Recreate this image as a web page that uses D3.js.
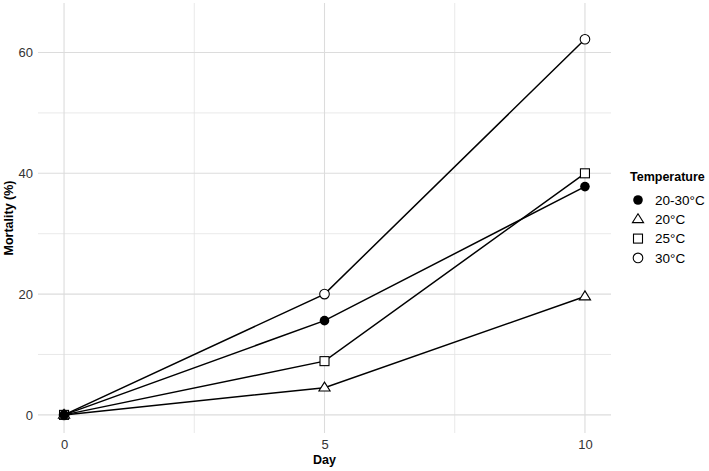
<!DOCTYPE html>
<html>
<head>
<meta charset="utf-8">
<style>
  body { margin: 0; background: #fff; font-family: "Liberation Sans", Arial, sans-serif; }
  .tick text { fill: #333; font-size: 13px; }
  .title { font-weight: bold; font-size: 12.5px; fill: #000; }
</style>
<script src="https://cdn.jsdelivr.net/npm/d3@7"></script>
</head>
<body>
<svg id="chart" width="709" height="471"></svg>
<script>
// data
var days = [0, 5, 10];
var groups = ['20-30°C', '20°C', '25°C', '30°C'];
var mort2030 = [0, 15.6, 37.8];
var mort20 = [0, 4.5, 19.6];
var mort25 = [0, 8.9, 40.0];
var mort30 = [0, 20.0, 62.2];
var xTicks = [0, 5, 10];
var yTicks = [0, 20, 40, 60];

var series = [
  { name: groups[0], values: mort2030, shape: 'circleFilled' },
  { name: groups[1], values: mort20, shape: 'triangle' },
  { name: groups[2], values: mort25, shape: 'square' },
  { name: groups[3], values: mort30, shape: 'circle' }
];

var svg = d3.select('#chart');
var panel = { left: 38, right: 611, top: 3, bottom: 433 };

var x = d3.scaleLinear().domain([-0.5, 10.5]).range([panel.left, panel.right]);
var y = d3.scaleLinear().domain([-3, 68.2]).range([panel.bottom, panel.top]);

// grid
var grid = svg.append('g');
grid.selectAll('.minorY').data([10, 30, 50]).enter().append('line')
  .attr('x1', panel.left).attr('x2', panel.right)
  .attr('y1', d => y(d)).attr('y2', d => y(d))
  .attr('stroke', '#e3e3e3').attr('stroke-width', 0.8);
grid.selectAll('.minorX').data([2.5, 7.5]).enter().append('line')
  .attr('y1', panel.top).attr('y2', panel.bottom)
  .attr('x1', d => x(d)).attr('x2', d => x(d))
  .attr('stroke', '#e3e3e3').attr('stroke-width', 0.8);
grid.selectAll('.majorY').data(yTicks).enter().append('line')
  .attr('x1', panel.left).attr('x2', panel.right)
  .attr('y1', d => y(d)).attr('y2', d => y(d))
  .attr('stroke', '#dcdcdc').attr('stroke-width', 1.1);
grid.selectAll('.majorX').data(xTicks).enter().append('line')
  .attr('y1', panel.top).attr('y2', panel.bottom)
  .attr('x1', d => x(d)).attr('x2', d => x(d))
  .attr('stroke', '#dcdcdc').attr('stroke-width', 1.1);

// axes (labels only)
var xAxis = svg.append('g')
  .attr('transform', 'translate(0,' + panel.bottom + ')')
  .call(d3.axisBottom(x).tickValues(xTicks).tickSize(0).tickPadding(7));
var yAxis = svg.append('g')
  .attr('transform', 'translate(' + panel.left + ',0)')
  .call(d3.axisLeft(y).tickValues(yTicks).tickSize(0).tickPadding(5));
xAxis.select('.domain').remove();
yAxis.select('.domain').remove();
svg.selectAll('.tick text').attr('font-family', '"Liberation Sans", Arial, sans-serif');

svg.append('text').attr('class', 'title')
  .attr('x', x(5)).attr('y', 464).attr('text-anchor', 'middle').text('Day');
svg.append('text').attr('class', 'title')
  .attr('transform', 'translate(12.5,' + ((panel.top + panel.bottom) / 2) + ') rotate(-90)')
  .attr('text-anchor', 'middle').text('Mortality (%)');

// lines
var line = d3.line().x((d, i) => x(days[i])).y(d => y(d));
svg.selectAll('.series').data(series).enter().append('path')
  .attr('d', d => line(d.values))
  .attr('fill', 'none').attr('stroke', '#000').attr('stroke-width', 1.5);

function drawShape(g, shape, cx, cy) {
  if (shape === 'circleFilled') {
    g.append('circle').attr('cx', cx).attr('cy', cy).attr('r', 4.8).attr('fill', '#000');
  } else if (shape === 'circle') {
    g.append('circle').attr('cx', cx).attr('cy', cy).attr('r', 4.8)
      .attr('fill', '#fff').attr('stroke', '#000').attr('stroke-width', 1.1);
  } else if (shape === 'square') {
    g.append('rect').attr('x', cx - 4.5).attr('y', cy - 4.5).attr('width', 9).attr('height', 9)
      .attr('fill', '#fff').attr('stroke', '#000').attr('stroke-width', 1.1);
  } else {
    var s = 5.6;
    g.append('path')
      .attr('d', 'M' + cx + ',' + (cy - s) + 'L' + (cx + s) + ',' + (cy + s * 0.6) + 'L' + (cx - s) + ',' + (cy + s * 0.6) + 'Z')
      .attr('fill', '#fff').attr('stroke', '#000').attr('stroke-width', 1.1);
  }
}

// points (filled circle drawn last so the day-0 stack looks solid)
var pts = svg.append('g');
series.slice().reverse().forEach(function (s) {
  s.values.forEach(function (v, i) {
    drawShape(pts, s.shape, x(days[i]), y(v));
  });
});

// legend
var legend = svg.append('g');
legend.append('text').attr('class', 'title').attr('x', 630).attr('y', 181).text('Temperature');
series.forEach(function (s, i) {
  var cy = 200 + i * 19.3;
  drawShape(legend, s.shape, 638, cy);
  legend.append('text').attr('x', 655).attr('y', cy + 4.8)
    .attr('font-size', 13.5).attr('fill', '#000').text(s.name);
});
</script>
</body>
</html>
